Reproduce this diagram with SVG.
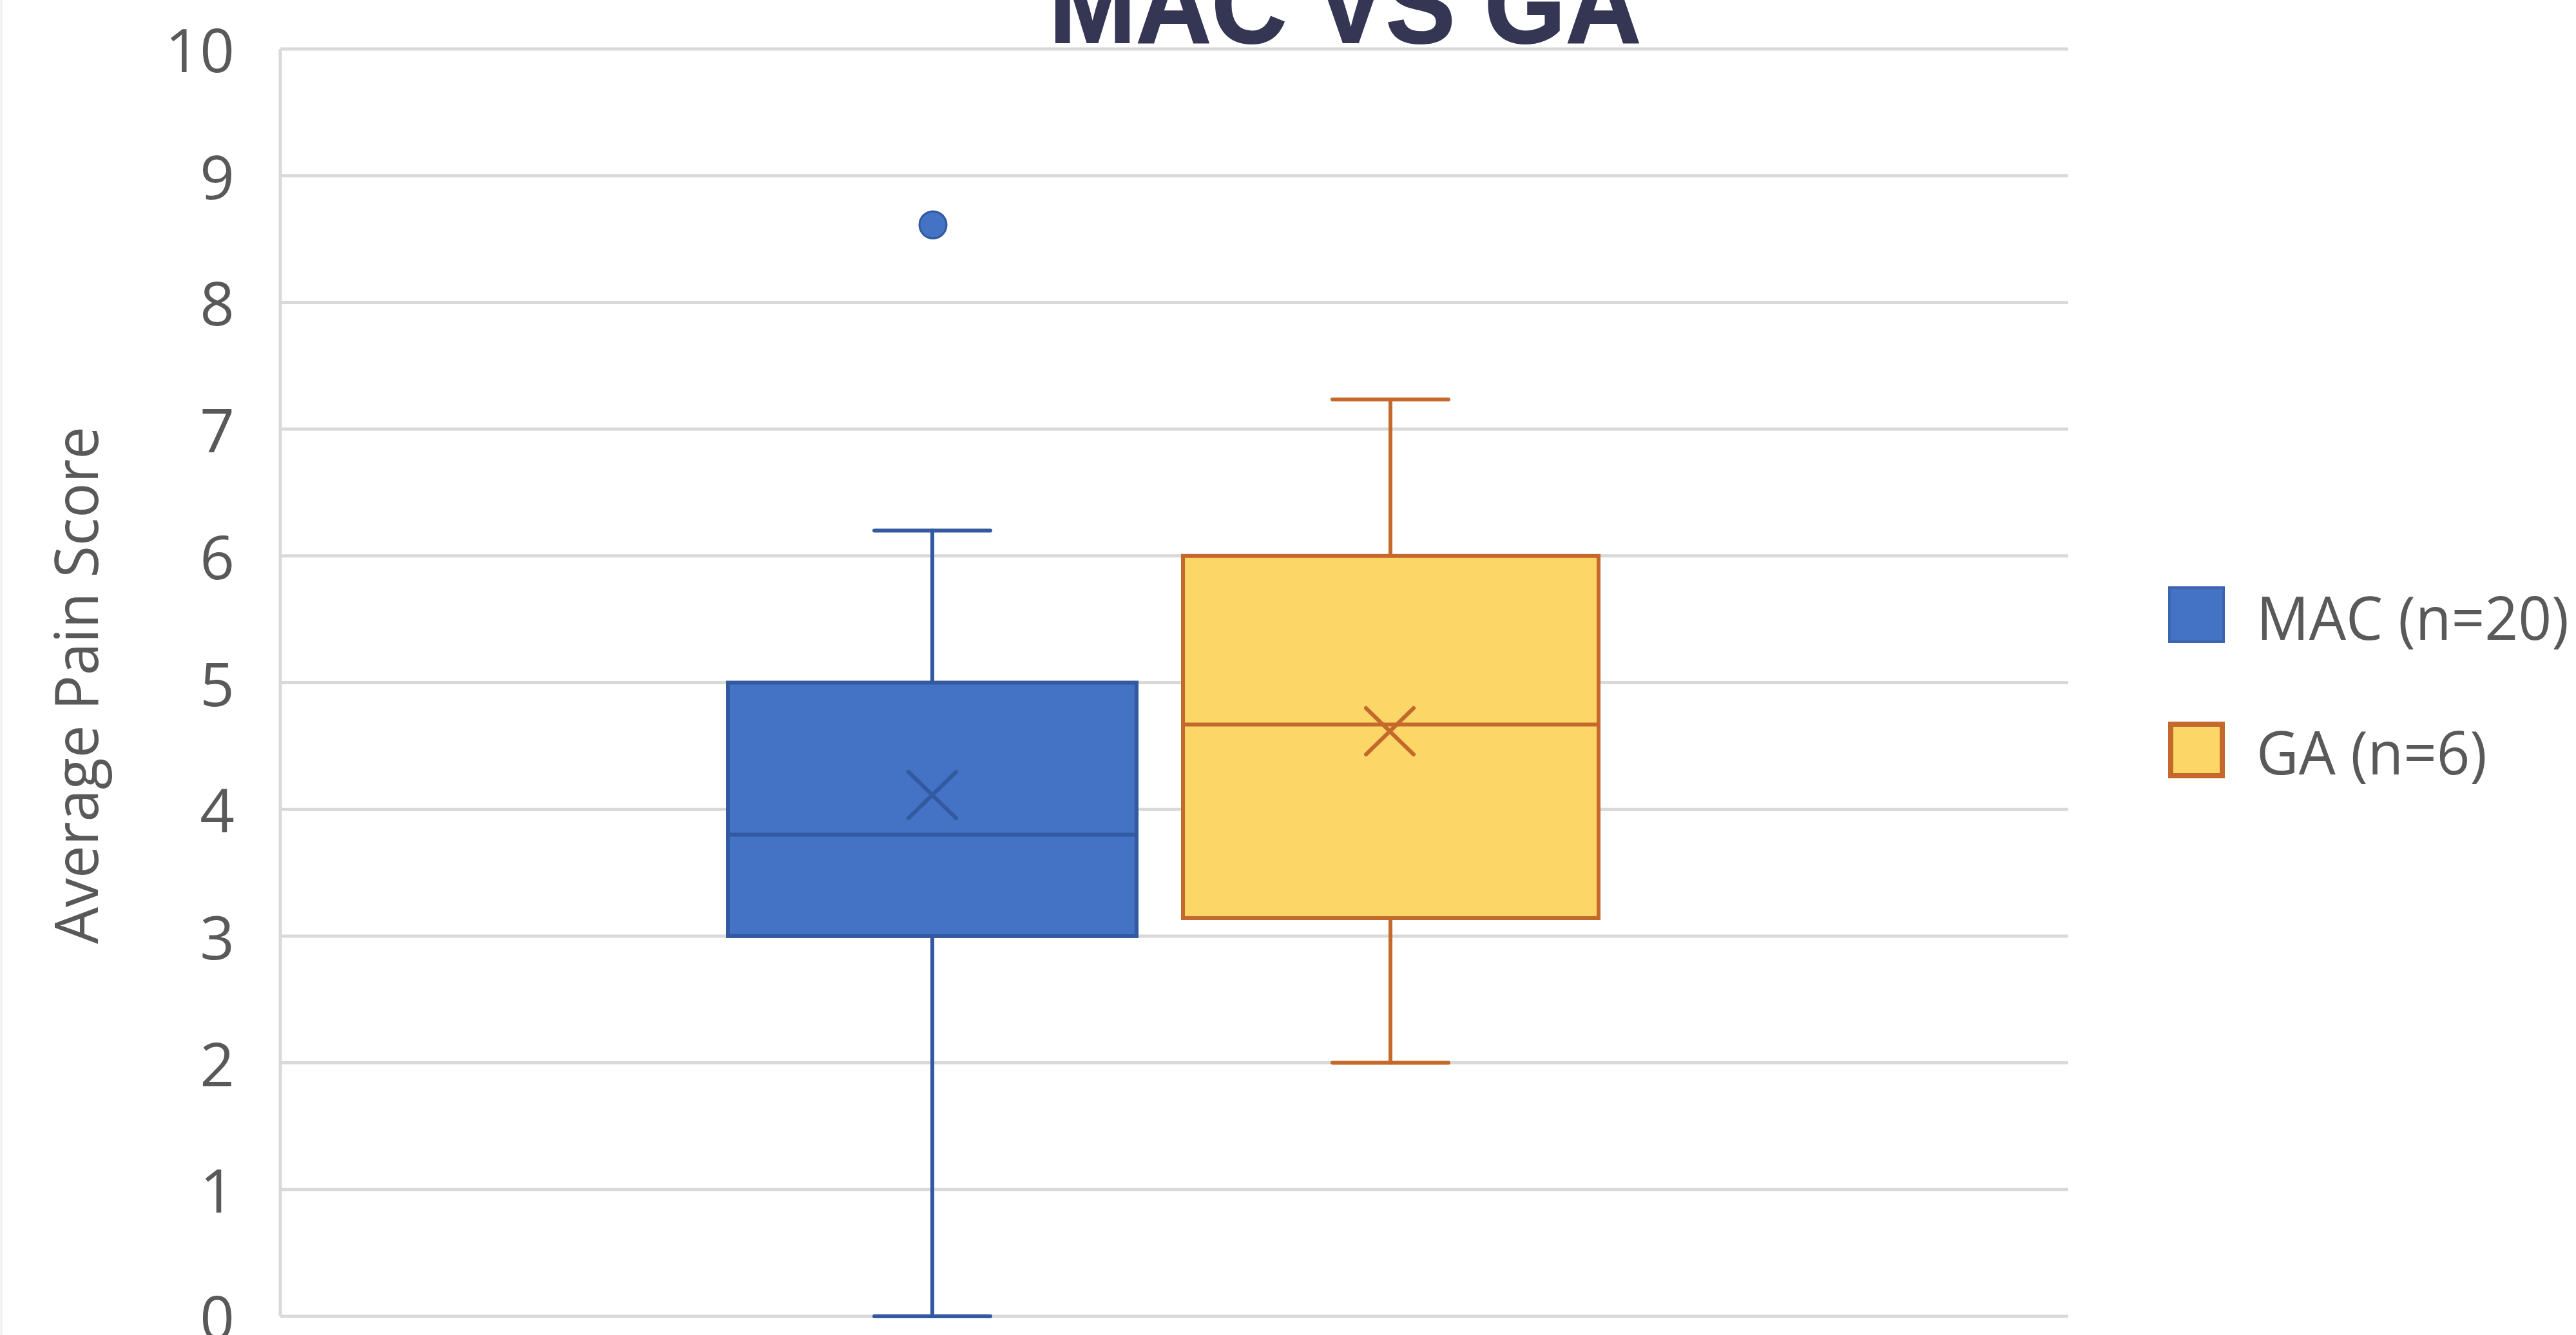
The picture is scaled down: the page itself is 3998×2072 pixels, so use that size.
<svg xmlns="http://www.w3.org/2000/svg" width="3998" height="2072" viewBox="0 0 3998 2072">
<style>
.grid{stroke:#d9d9d9;stroke-width:5;fill:none}
.tick{font-family:"Open Sans","Liberation Sans",sans-serif;font-size:94px;fill:#595959;text-anchor:end}
.lbl{font-family:"Open Sans","Liberation Sans",sans-serif;font-size:94px;fill:#595959}
.mac{fill:#4472C4;stroke:#3359a0;stroke-width:6}
.macl{stroke:#3359a0;stroke-width:6;fill:none;stroke-linecap:round}
.ga{fill:#FCD667;stroke:#C4682C;stroke-width:6}
.gal{stroke:#C4682C;stroke-width:6;fill:none;stroke-linecap:round}
</style>
<rect x="0" y="0" width="3998" height="2072" fill="#ffffff"/>
<line x1="2" y1="0" x2="2" y2="2072" stroke="#eeeeee" stroke-width="3"/>
<g id="gridlines">
<line class="grid" x1="435" y1="76" x2="3210" y2="76"/>
<line class="grid" x1="435" y1="272.7" x2="3210" y2="272.7"/>
<line class="grid" x1="435" y1="469.4" x2="3210" y2="469.4"/>
<line class="grid" x1="435" y1="666.1" x2="3210" y2="666.1"/>
<line class="grid" x1="435" y1="862.8" x2="3210" y2="862.8"/>
<line class="grid" x1="435" y1="1059.5" x2="3210" y2="1059.5"/>
<line class="grid" x1="435" y1="1256.2" x2="3210" y2="1256.2"/>
<line class="grid" x1="435" y1="1452.9" x2="3210" y2="1452.9"/>
<line class="grid" x1="435" y1="1649.6" x2="3210" y2="1649.6"/>
<line class="grid" x1="435" y1="1846.3" x2="3210" y2="1846.3"/>
<line class="grid" x1="435" y1="2043" x2="3210" y2="2043"/>
<line class="grid" x1="435" y1="76" x2="435" y2="2043"/>
</g>
<g id="y-axis-labels">
<text class="tick" x="364" y="112">10</text>
<text class="tick" x="364" y="308.7">9</text>
<text class="tick" x="364" y="505.4">8</text>
<text class="tick" x="364" y="702.1">7</text>
<text class="tick" x="364" y="898.8">6</text>
<text class="tick" x="364" y="1095.5">5</text>
<text class="tick" x="364" y="1292.2">4</text>
<text class="tick" x="364" y="1488.9">3</text>
<text class="tick" x="364" y="1685.6">2</text>
<text class="tick" x="364" y="1882.3">1</text>
<text class="tick" x="364" y="2079">0</text>
</g>
<g id="y-axis-title">
<text class="lbl" transform="translate(152,1465) rotate(-90)" x="0" y="0" textLength="803" lengthAdjust="spacingAndGlyphs">Average Pain Score</text>
</g>
<g id="title">
<text x="1628" y="66" font-family="'Liberation Sans',Arial,sans-serif" font-weight="bold" font-size="172" fill="#343654" stroke="#343654" stroke-width="2" textLength="919" lengthAdjust="spacingAndGlyphs">MAC VS GA</text>
</g>
<g id="connectors">
<line class="macl" x1="1447" y1="1059.5" x2="1447" y2="823.5"/>
<line class="macl" x1="1357" y1="823.5" x2="1537" y2="823.5"/>
<line class="macl" x1="1447" y1="1452.9" x2="1447" y2="2043"/>
<line class="macl" x1="1357" y1="2043" x2="1537" y2="2043"/>
<line class="gal" x1="2158" y1="862.8" x2="2158" y2="620"/>
<line class="gal" x1="2068" y1="620" x2="2248" y2="620"/>
<line class="gal" x1="2158" y1="1425" x2="2158" y2="1649.6"/>
<line class="gal" x1="2068" y1="1649.6" x2="2248" y2="1649.6"/>
</g>
<g id="box-mac">
<rect class="mac" x="1130" y="1059.5" width="634" height="393.4"/>
<line class="macl" x1="1130" y1="1295.5" x2="1764" y2="1295.5"/>
<path class="macl" d="M1410 1198 L1484 1270 M1484 1198 L1410 1270"/>
</g>
<g id="outlier-mac">
<circle cx="1448" cy="349" r="21" fill="#4472C4" stroke="#3359a0" stroke-width="3"/>
</g>
<g id="box-ga">
<rect class="ga" x="1836" y="862.8" width="645" height="562.2"/>
<line class="gal" x1="1836" y1="1124.5" x2="2481" y2="1124.5"/>
<path class="gal" d="M2120 1099 L2194 1171 M2194 1099 L2120 1171"/>
</g>
<g id="legend">
<g id="legend-mac">
<rect x="3367" y="912" width="84" height="84" fill="#4472C4" stroke="#3c64b0" stroke-width="4"/>
<text class="lbl" x="3502" y="993" textLength="485" lengthAdjust="spacingAndGlyphs">MAC (n=20)</text>
</g>
<g id="legend-ga">
<rect x="3369" y="1124" width="80" height="80" fill="#FCD667" stroke="#C4682C" stroke-width="8"/>
<text class="lbl" x="3502" y="1202" textLength="358" lengthAdjust="spacingAndGlyphs">GA (n=6)</text>
</g>
</g>
</svg>
